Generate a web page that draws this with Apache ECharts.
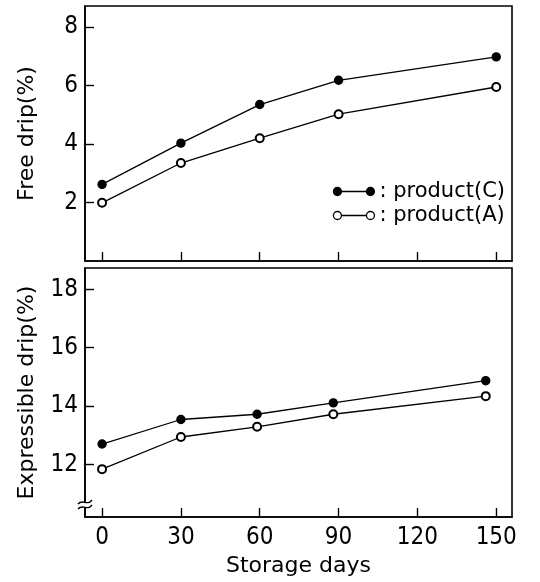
<!DOCTYPE html>
<html>
<head>
<meta charset="utf-8">
<script src="https://cdn.jsdelivr.net/npm/echarts@6/dist/echarts.min.js"></script>
<style>html,body{margin:0;padding:0;background:#fff;}#c{width:540px;height:582px;}</style>
</head>
<body>
<div id="c"></div>
<script>
// Data
const daysTop = [0, 30, 60, 90, 150];
const freeDripC = [2.62, 4.03, 5.35, 6.18, 6.98];
const freeDripA = [1.99, 3.35, 4.20, 5.02, 5.95];

const daysBottom = [0, 30, 59, 88, 146];
const exprDripC = [12.70, 13.54, 13.72, 14.11, 14.87];
const exprDripA = [11.84, 12.94, 13.29, 13.72, 14.34];

const xTicks = [0, 30, 60, 90, 120, 150];
const yTicksTop = [2, 4, 6, 8];
const yTicksBottom = [12, 14, 16, 18];

const nameC = 'product(C)';
const nameA = 'product(A)';

const pair = (xs, ys) => xs.map((x, i) => [x, ys[i]]);

const numFont = '"Liberation Sans Narrow", "DejaVu Sans Condensed", "Roboto Condensed", sans-serif';
const txtFont = '"DejaVu Sans", sans-serif';

const iconPath = 'path://M0,4 A4,4 0 1,1 8,4 A4,4 0 1,1 0,4 Z M8,4 L33,4 M33,4 A4,4 0 1,1 41,4 A4,4 0 1,1 33,4 Z';

function xAxis(gridIndex, showLabels) {
  return {
    type: 'value', gridIndex, min: -6.5, max: 156,
    name: showLabels ? 'Storage days' : '',
    nameLocation: 'middle', nameGap: 38,
    nameTextStyle: { fontFamily: txtFont, fontSize: 22, color: '#000' },
    axisLine: { show: true, onZero: false, lineStyle: { color: '#000', width: 1.6 } },
    axisTick: { show: true, inside: true, length: 9, customValues: xTicks, lineStyle: { color: '#000', width: 1.4 } },
    axisLabel: { show: showLabels, customValues: xTicks, margin: 9, fontFamily: numFont, fontSize: 24, color: '#000' },
    splitLine: { show: false }
  };
}
function yAxis(gridIndex, min, max, ticks, name) {
  return {
    type: 'value', gridIndex, min, max, name,
    nameLocation: 'middle', nameGap: 47,
    nameTextStyle: { fontFamily: txtFont, fontSize: 22, color: '#000' },
    axisLine: { show: true, onZero: false, lineStyle: { color: '#000', width: 1.6 } },
    axisTick: { show: true, inside: true, length: 9, customValues: ticks, lineStyle: { color: '#000', width: 1.4 } },
    axisLabel: { customValues: ticks, margin: 7, fontFamily: numFont, fontSize: 24, color: '#000' },
    splitLine: { show: false }
  };
}
function lineSeries(name, xi, data, filled) {
  return {
    type: 'line', name, xAxisIndex: xi, yAxisIndex: xi, data,
    symbol: filled ? 'circle' : 'emptyCircle', symbolSize: 8,
    itemStyle: { color: '#000', borderColor: '#000', borderWidth: 1.4 },
    lineStyle: { color: '#000', width: 1.3 },
    animation: false, z: 3
  };
}

const chart = echarts.init(document.getElementById('c'), null, { renderer: 'canvas' });
chart.setOption({
  backgroundColor: '#fff',
  animation: false,
  grid: [
    { left: 85, right: 28, top: 6, height: 255, show: true, borderColor: '#000', borderWidth: 1.6 },
    { left: 85, right: 28, top: 268, height: 249, show: true, borderColor: '#000', borderWidth: 1.6 }
  ],
  xAxis: [xAxis(0, false), xAxis(1, true)],
  yAxis: [
    yAxis(0, 0, 8.72, yTicksTop, 'Free drip(%)'),
    yAxis(1, 10.2, 18.73, yTicksBottom, 'Expressible drip(%)')
  ],
  legend: {
    orient: 'vertical', right: 30, top: 176, itemGap: 3,
    itemWidth: 41, itemHeight: 8,
    formatter: ': {name}',
    textStyle: { fontFamily: txtFont, fontSize: 21, color: '#000' },
    data: [
      { name: nameC, icon: iconPath, itemStyle: { color: '#000', borderColor: '#000', borderWidth: 1.3 } },
      { name: nameA, icon: iconPath, itemStyle: { color: '#fff', borderColor: '#000', borderWidth: 1.3 } }
    ]
  },
  series: [
    lineSeries(nameC, 0, pair(daysTop, freeDripC), true),
    lineSeries(nameA, 0, pair(daysTop, freeDripA), false),
    lineSeries(nameC, 1, pair(daysBottom, exprDripC), true),
    lineSeries(nameA, 1, pair(daysBottom, exprDripA), false)
  ],
  graphic: [
    { type: 'rect', shape: { x: 82, y: 503, width: 7, height: 5 }, style: { fill: '#fff' }, z: 10 },
    { type: 'bezierCurve', shape: { x1: 78, y1: 504, x2: 92, y2: 500, cpx1: 83, cpy1: 498, cpx2: 87, cpy2: 507 }, style: { stroke: '#000', lineWidth: 1.4, fill: null }, z: 11 },
    { type: 'bezierCurve', shape: { x1: 78, y1: 509, x2: 92, y2: 505, cpx1: 83, cpy1: 503, cpx2: 87, cpy2: 512 }, style: { stroke: '#000', lineWidth: 1.4, fill: null }, z: 11 }
  ]
});
</script>
</body>
</html>
